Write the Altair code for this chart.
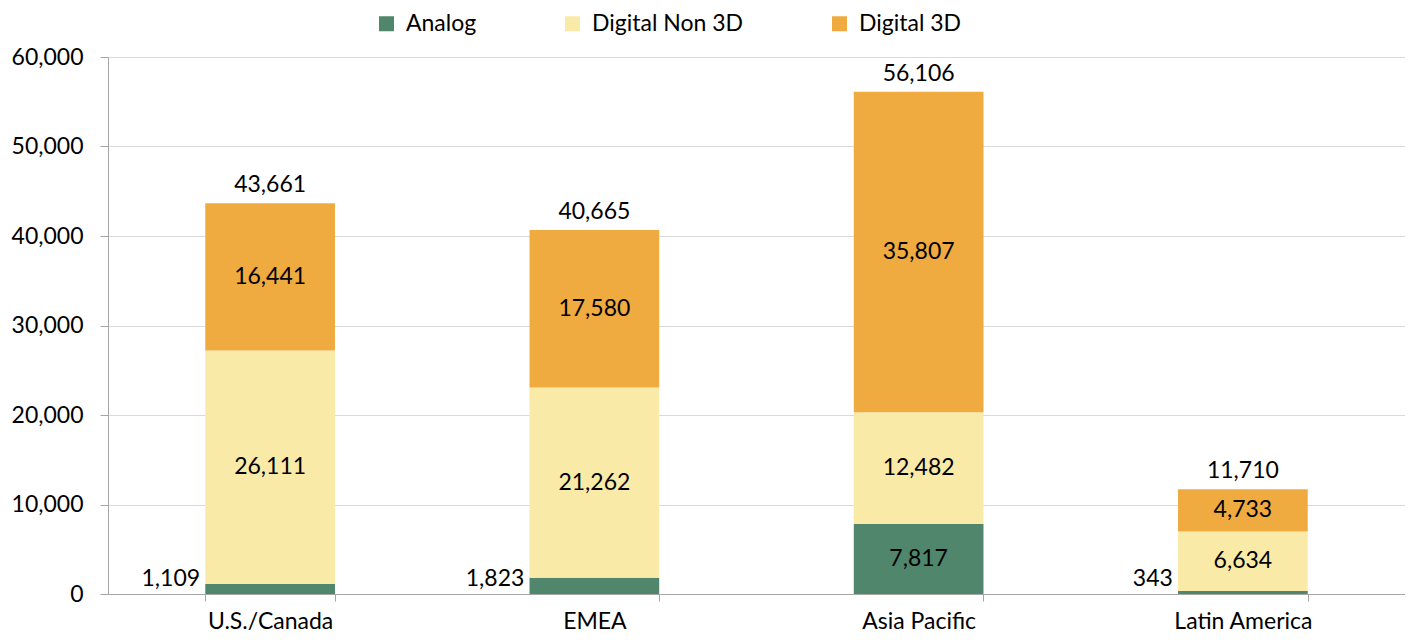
import altair as alt
import pandas as pd

regions = ["U.S./Canada", "EMEA", "Asia Pacific", "Latin America"]
series = ["Analog", "Digital Non 3D", "Digital 3D"]
analog = [1109, 1823, 7817, 343]
digital_non3d = [26111, 21262, 12482, 6634]
digital_3d = [16441, 17580, 35807, 4733]
totals = [43661, 40665, 56106, 11710]
colors = ["#50866C", "#F9EAA8", "#EFAA40"]
y_ticks = [0, 10000, 20000, 30000, 40000, 50000, 60000]

FONT = "Lato"
FS = 23

rows = []
values_by_series = [analog, digital_non3d, digital_3d]
for i, reg in enumerate(regions):
    base = 0
    for j, s in enumerate(series):
        v = values_by_series[j][i]
        rows.append({
            "region": reg, "series": s, "order": j, "value": v,
            "start": base, "end": base + v, "mid": base + v / 2,
            "label": f"{v:,}", "inside": v >= 2500, "zero": 0,
        })
        base += v
df = pd.DataFrame(rows)
tot = pd.DataFrame({"region": regions, "total": totals,
                    "label": [f"{t:,}" for t in totals]})

x_enc = alt.X(
    "region:N", sort=regions, title=None,
    scale=alt.Scale(paddingInner=0.6, paddingOuter=0.3),
    axis=alt.Axis(labelAngle=0, tickBand="extent", tickSize=7, labelPadding=9,
                  domainColor="#A6A6A6", tickColor="#A6A6A6",
                  labelFontSize=FS, labelColor="#000000", labelFont=FONT),
)
y_scale = alt.Scale(domain=[0, 60000], nice=False)

bars = alt.Chart(df).mark_bar().encode(
    x=x_enc,
    y=alt.Y("start:Q", scale=y_scale, title=None,
            axis=alt.Axis(values=y_ticks, format=",d", tickSize=8, labelPadding=17,
                          domainColor="#A6A6A6", tickColor="#A6A6A6",
                          gridColor="#D9D9D9", labelFontSize=FS,
                          labelColor="#000000", labelFont=FONT)),
    y2="end:Q",
    color=alt.Color("series:N", sort=series,
                    scale=alt.Scale(domain=series, range=colors),
                    legend=alt.Legend(orient="none", direction="horizontal",
                                      legendX=267, legendY=-45, title=None,
                                      symbolType="square", symbolSize=225,
                                      symbolStrokeWidth=0, labelFontSize=FS,
                                      labelFont=FONT, labelColor="#000000",
                                      columnPadding=84, labelOffset=8,
                                      labelLimit=400, padding=0)),
    order=alt.Order("order:Q"),
)

inside = alt.Chart(df).transform_filter("datum.inside").mark_text(
    fontSize=FS, font=FONT, color="#000000", baseline="middle"
).encode(x=alt.X("region:N", sort=regions), y=alt.Y("mid:Q", scale=y_scale), text="label:N")

outside = alt.Chart(df).transform_filter("!datum.inside").mark_text(
    fontSize=FS, font=FONT, color="#000000", baseline="alphabetic", align="right",
    dx=-70, dy=-8
).encode(x=alt.X("region:N", sort=regions), y=alt.Y("zero:Q", scale=y_scale), text="label:N")

total_txt = alt.Chart(tot).mark_text(
    fontSize=FS, font=FONT, color="#000000", baseline="alphabetic", dy=-11
).encode(x=alt.X("region:N", sort=regions), y=alt.Y("total:Q", scale=y_scale), text="label:N")

chart = alt.layer(bars, inside, outside, total_txt).properties(
    width=1297, height=537,
    autosize=alt.AutoSizeParams(type="none"),
    padding={"left": 100, "top": 49, "right": 0, "bottom": 42},
).configure_view(stroke=None).configure(font=FONT)

chart.save("out.html", embed_options={"renderer": "svg", "actions": False})
